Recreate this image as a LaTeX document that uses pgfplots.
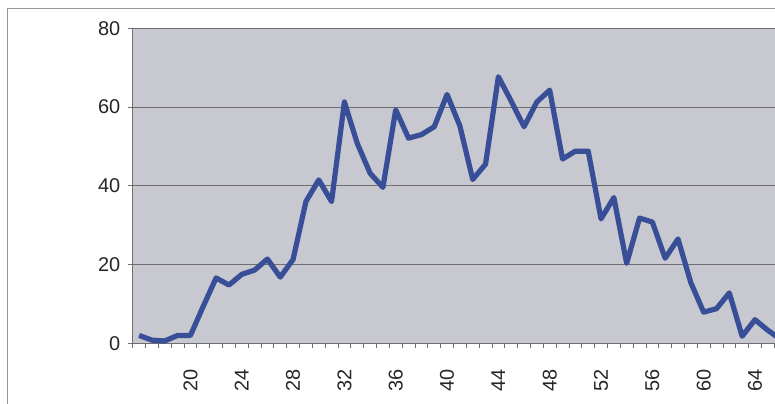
\documentclass[border=0pt]{standalone}
\usepackage{pgfplots}
\pgfplotsset{compat=1.18}
\usepackage{fontspec}
\setmainfont{Liberation Sans}
\definecolor{plotbg}{RGB}{200,200,208}
\definecolor{serieblue}{RGB}{56,78,150}
\definecolor{gridgray}{RGB}{110,110,115}
\definecolor{framegray}{RGB}{150,150,150}

\pgfplotstableread{
x y
16 2.0
17 0.8
18 0.6
19 2.0
20 2.0
21 9.4
22 16.6
23 14.8
24 17.5
25 18.6
26 21.4
27 16.8
28 21.3
29 36.0
30 41.5
31 36.0
32 61.3
33 50.8
34 43.2
35 39.6
36 59.3
37 52.1
38 53.0
39 55.0
40 63.2
41 55.2
42 41.6
43 45.5
44 67.7
45 61.5
46 55.0
47 61.3
48 64.3
49 46.8
50 48.8
51 48.8
52 31.6
53 37.0
54 20.3
55 31.8
56 30.8
57 21.6
58 26.5
59 15.4
60 7.9
61 8.8
62 12.8
63 1.8
64 6.0
65 3.3
66 1.0
}\counts

\begin{document}
\begin{tikzpicture}
\useasboundingbox (-132.7bp,-60.7bp) rectangle (642.3bp,343.3bp);
% outer chart frame (left and top visible)
\draw[framegray, line width=0.8bp] (-125.7bp,-60.7bp) -- (-125.7bp,335.3bp) -- (642.3bp,335.3bp);
\begin{axis}[
    at={(0,0)}, anchor=south west,
    scale only axis,
    width=642.3bp, height=315bp,
    xmin=15.5, xmax=65.56,
    ymin=0, ymax=80,
    axis background/.style={fill=plotbg},
    axis line style={gridgray, line width=0.9bp},
    clip=true,
    xtick={20,24,...,64},
    minor xtick={15.5,16.5,...,65.5},
    ytick={0,20,...,80},
    major tick length=5bp,
    minor tick length=5bp,
    tick align=outside,
    major x tick style={draw=none},
    minor x tick style={gridgray, line width=0.8bp},
    ytick style={gridgray, line width=0.8bp},
    ymajorgrids=true,
    major grid style={gridgray, line width=1bp},
    tick label style={font=\fontsize{20}{24}\selectfont, text=black!85},
    xticklabel style={rotate=90, anchor=east},
    xticklabel shift=18bp,
    yticklabel shift=4bp,
    /pgf/number format/assume math mode=true,
    axis x line*=bottom,
    axis y line*=left,
]
\addplot[serieblue, line width=5.2bp, line join=round, mark=none] table[x=x, y=y] {\counts};
\draw[gridgray, line width=0.9bp] (axis cs:15.5,80) -- (axis cs:65.56,80);
\end{axis}
\end{tikzpicture}
\end{document}
